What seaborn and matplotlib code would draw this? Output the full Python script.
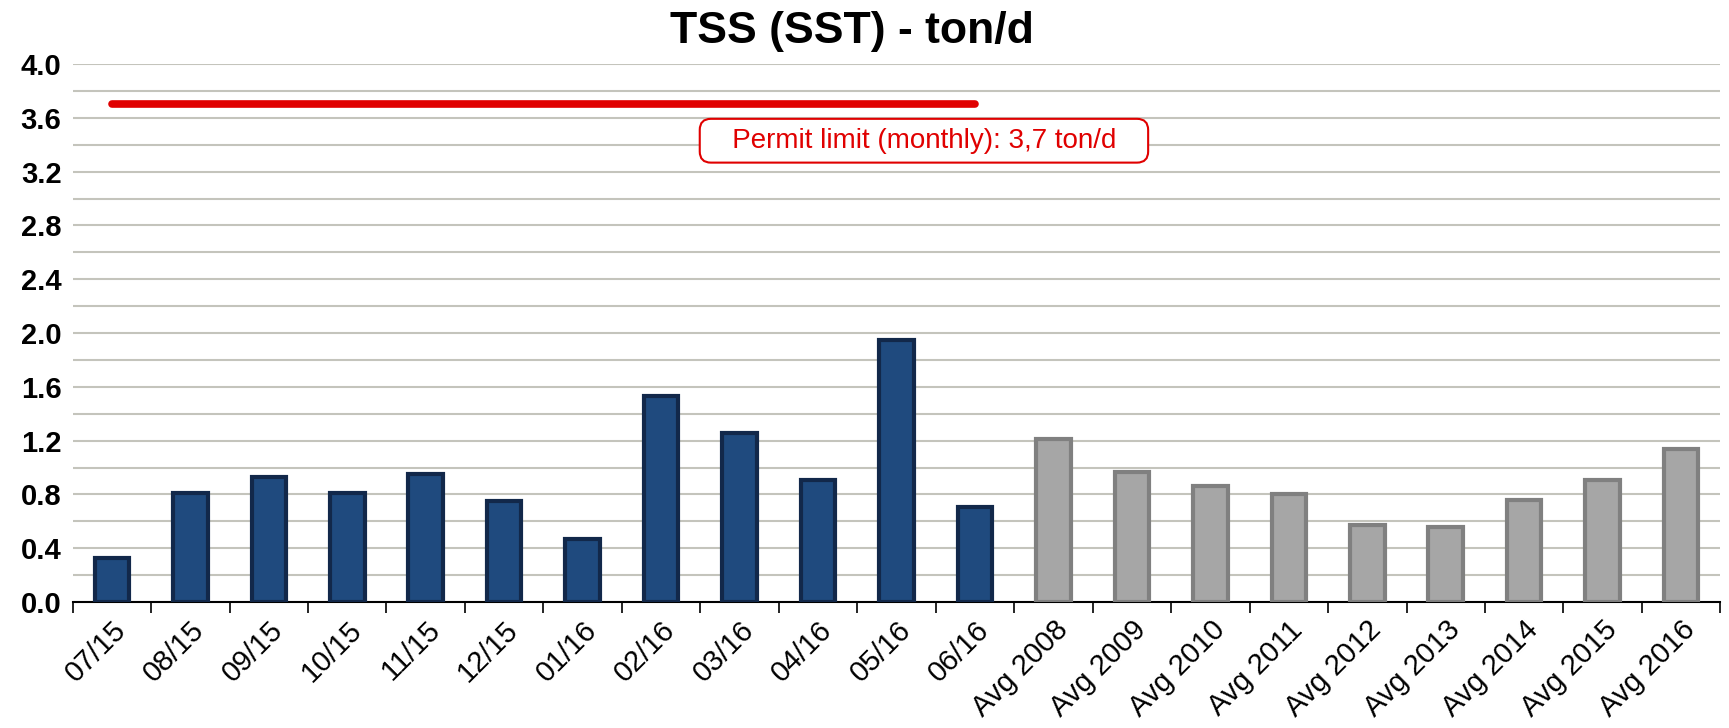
import numpy as np
import pandas as pd
import matplotlib
matplotlib.use("Agg")
import matplotlib.pyplot as plt
from matplotlib.ticker import MultipleLocator
import seaborn as sns

# data (ton/d)
months = ["07/15", "08/15", "09/15", "10/15", "11/15", "12/15",
          "01/16", "02/16", "03/16", "04/16", "05/16", "06/16"]
month_vals = [0.33, 0.81, 0.93, 0.81, 0.95, 0.75, 0.47, 1.53, 1.26, 0.91, 1.95, 0.71]
years = ["Avg 2008", "Avg 2009", "Avg 2010", "Avg 2011", "Avg 2012",
         "Avg 2013", "Avg 2014", "Avg 2015", "Avg 2016"]
year_vals = [1.21, 0.97, 0.86, 0.80, 0.57, 0.56, 0.76, 0.91, 1.14]
permit_limit = 3.7

df = pd.DataFrame({
    "label": months + years,
    "value": month_vals + year_vals,
    "kind": ["month"] * len(months) + ["avg"] * len(years),
})

sns.set_style("white")
plt.rcParams["font.family"] = ["Liberation Sans", "DejaVu Sans"]
plt.rcParams["text.color"] = "black"
plt.rcParams["xtick.color"] = "black"
plt.rcParams["ytick.color"] = "black"

fig = plt.figure(figsize=(17.29, 7.28), dpi=100)
ax = fig.add_axes([0.042, 0.173, 0.953, 0.739])

sns.barplot(data=df, x="label", y="value", hue="kind",
            palette={"month": "#1f4a7e", "avg": "#a6a6a6"}, saturation=1,
            dodge=False, width=0.44, legend=False, ax=ax, zorder=3)

edge = {"month": "#12284a", "avg": "#808080"}
for bar, k in zip(ax.patches, df["kind"]):
    bar.set_edgecolor(edge[k])
    bar.set_linewidth(3)

# permit limit line, from first to last month
ax.plot([0, len(months) - 1], [permit_limit, permit_limit], color="#e00000",
        lw=5.5, solid_capstyle="round", zorder=4)
ax.text(10.35, 3.43, "   Permit limit (monthly): 3,7 ton/d   ", color="#e00000",
        fontsize=20, ha="center", va="center", zorder=5,
        bbox=dict(boxstyle="round,pad=0.32,rounding_size=0.4", fc="white",
                  ec="#e00000", lw=1.5))

ax.set_xlim(-0.5, len(df) - 0.5)
ax.set_ylim(0, 4.0)
ax.yaxis.set_major_locator(MultipleLocator(0.4))
ax.yaxis.set_minor_locator(MultipleLocator(0.2))
ax.grid(axis="y", which="both", color="#c4c4bc", lw=1.5, zorder=0)
ax.set_axisbelow(True)

for s in ["left", "right", "top"]:
    ax.spines[s].set_visible(False)
ax.spines["bottom"].set_color("black")
ax.spines["bottom"].set_linewidth(1.5)

ax.set_xticks(np.arange(len(df)))
ax.set_xticklabels(df["label"], rotation=45, ha="right", rotation_mode="anchor",
                   fontsize=21)
ax.set_xticks(np.arange(len(df) + 1) - 0.5, minor=True)
ax.tick_params(axis="x", which="major", length=0, pad=10)
ax.tick_params(axis="x", which="minor", length=8, width=1.2, color="black",
               direction="out", bottom=True)
ax.tick_params(axis="y", which="both", length=0, pad=8)
ax.set_yticklabels([f"{v:.1f}" for v in ax.get_yticks()], fontsize=21,
                   fontweight="bold")
ax.set_xlabel("")
ax.set_ylabel("")

fig.suptitle("TSS (SST) - ton/d", fontsize=32, fontweight="bold", x=0.493, y=0.985)

fig.savefig("out.png", dpi=100)
